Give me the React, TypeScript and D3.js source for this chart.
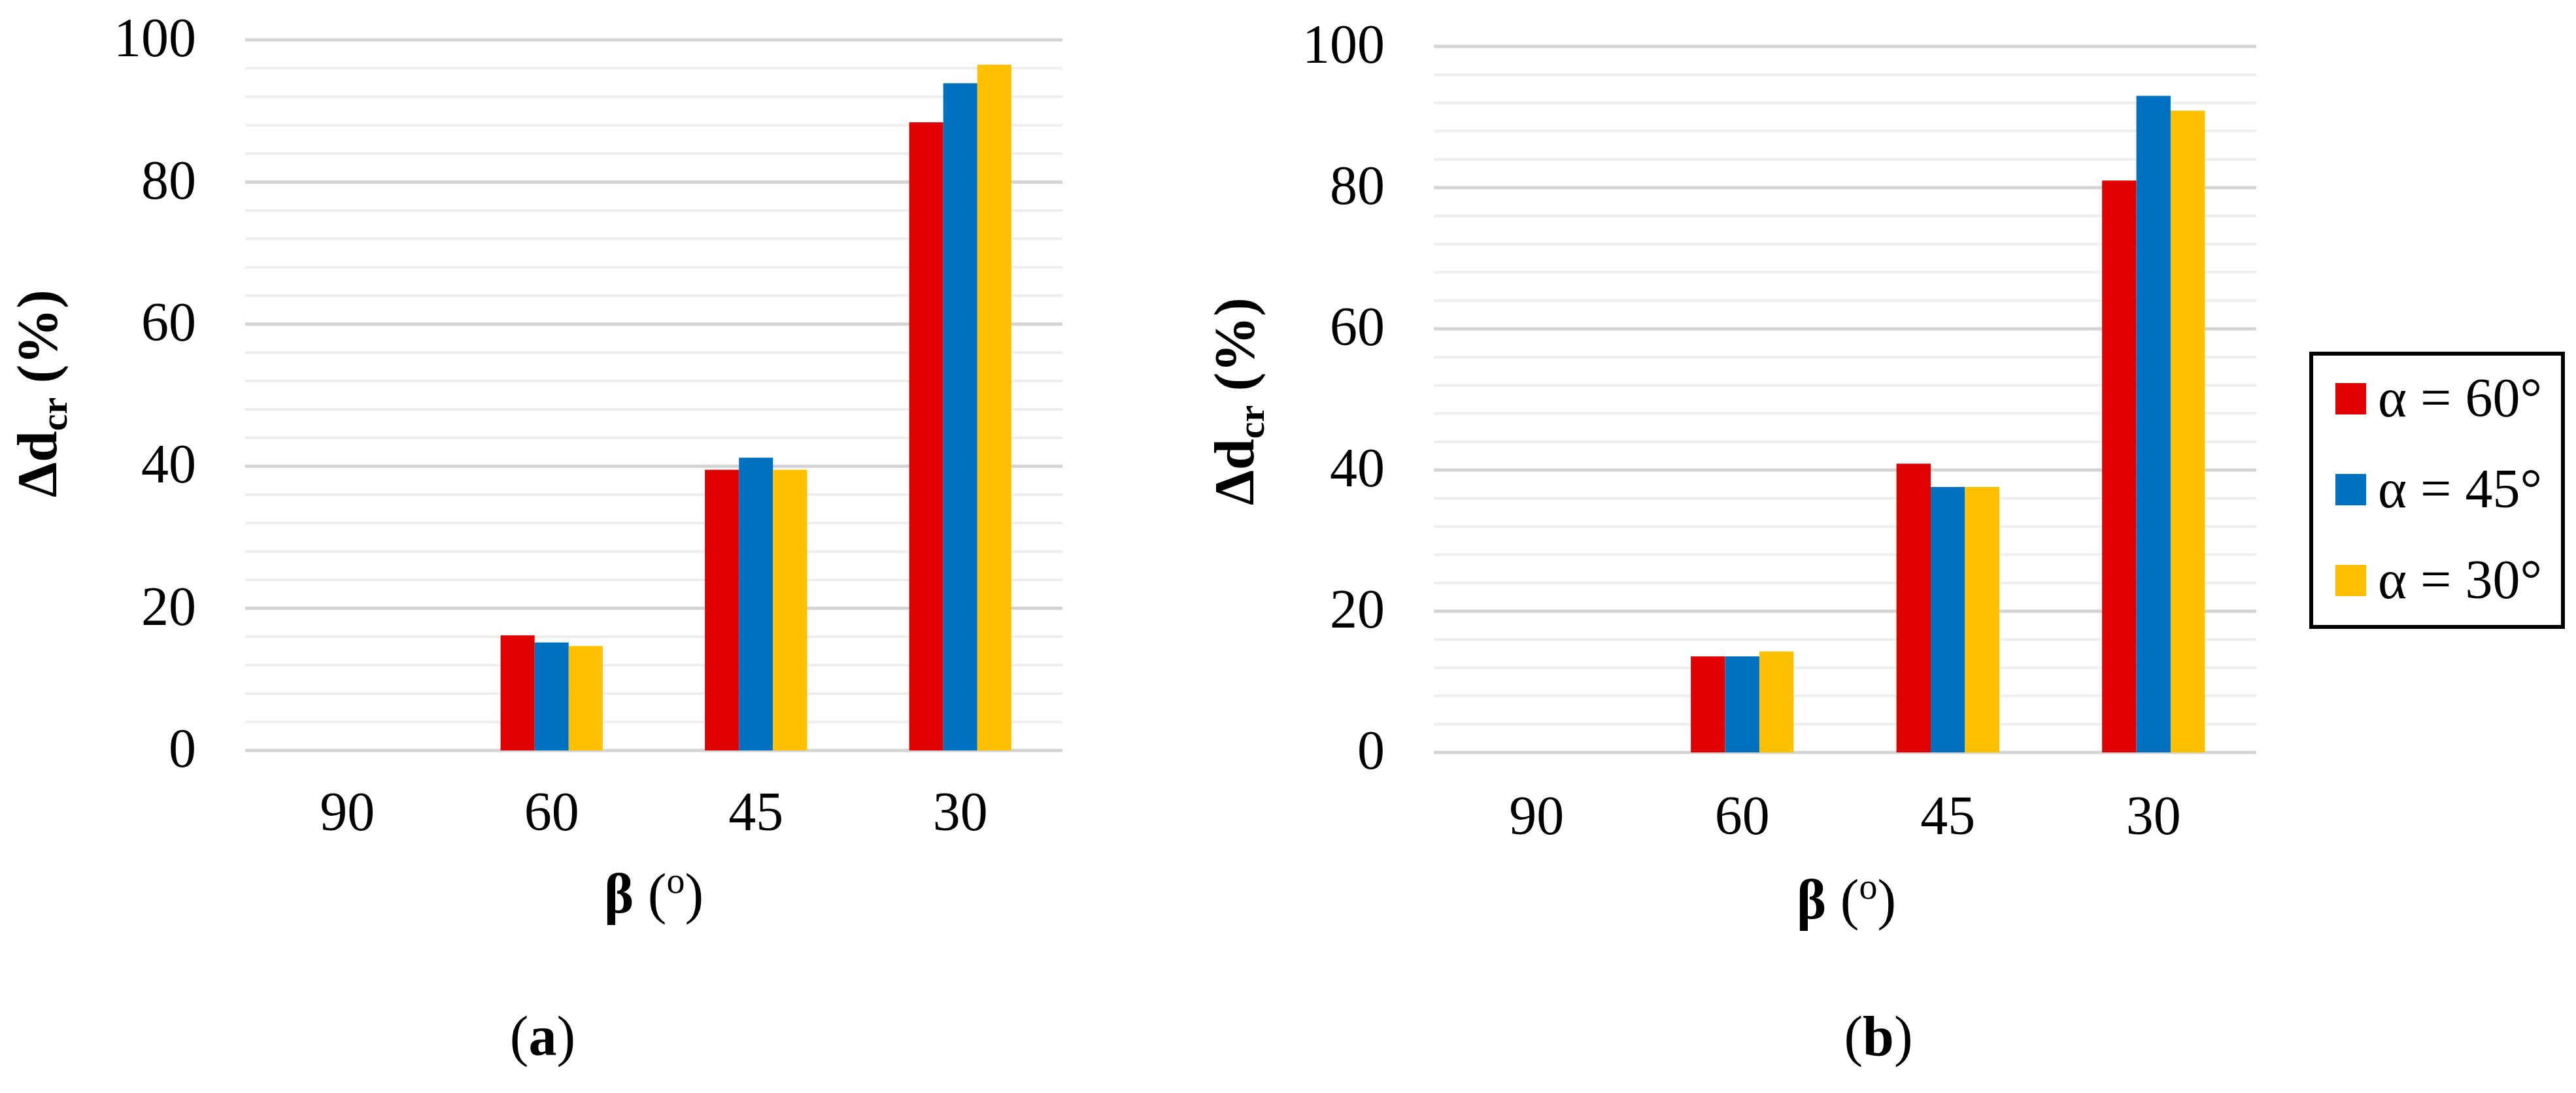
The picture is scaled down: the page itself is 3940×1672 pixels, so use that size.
import { useEffect, useRef } from "react"
import * as d3 from "d3"

// beta angle categories (x axis)
const categories = ["90", "60", "45", "30"]

// alpha series
const seriesLabels = ["α = 60°", "α = 45°", "α = 30°"]
const seriesColors = ["#E00000", "#0070C0", "#FFC000"]

// panel (a) values, %
const panelA_alpha60 = [0, 16.2, 39.5, 88.4]
const panelA_alpha45 = [0, 15.2, 41.2, 93.9]
const panelA_alpha30 = [0, 14.7, 39.5, 96.5]

// panel (b) values, %
const panelB_alpha60 = [0, 13.6, 40.9, 81.0]
const panelB_alpha45 = [0, 13.6, 37.6, 93.0]
const panelB_alpha30 = [0, 14.3, 37.6, 90.9]

const yTicks = [0, 20, 40, 60, 80, 100]
const yMinorStep = 4
const yMax = 100

const FONT = "'Liberation Serif', 'Times New Roman', serif"

type PanelSpec = {
  label: string
  series: number[][]
  left: number
  right: number
  top: number
  bottom: number
  yTitleX: number
  yTitleY: number
  xTitleX: number
  xTitleY: number
  catLabelY: number
  panelLabelX: number
}

const panels: PanelSpec[] = [
  {
    label: "a",
    series: [panelA_alpha60, panelA_alpha45, panelA_alpha30],
    left: 375, right: 1625, top: 61, bottom: 1148,
    yTitleX: 86, yTitleY: 602,
    xTitleX: 1000, xTitleY: 1396,
    catLabelY: 1270,
    panelLabelX: 830,
  },
  {
    label: "b",
    series: [panelB_alpha60, panelB_alpha45, panelB_alpha30],
    left: 2193, right: 3451, top: 71, bottom: 1151,
    yTitleX: 1917, yTitleY: 614,
    xTitleX: 2824, xTitleY: 1405,
    catLabelY: 1276,
    panelLabelX: 2873,
  },
]

function drawPanel(svg: d3.Selection<SVGSVGElement, unknown, null, undefined>, p: PanelSpec) {
  const g = svg.append("g")

  const x = d3.scaleBand<string>()
    .domain(categories)
    .range([p.left, p.right])
    .paddingInner(0)
    .paddingOuter(0)

  // bars take up the middle half of each category band
  const xInner = d3.scaleBand<number>()
    .domain(d3.range(seriesLabels.length))
    .range([x.bandwidth() * 0.25, x.bandwidth() * 0.75])

  const y = d3.scaleLinear()
    .domain([0, yMax])
    .range([p.bottom, p.top])

  // minor grid lines
  const minor = d3.range(0, yMax + 1, yMinorStep).filter(v => !yTicks.includes(v))
  g.append("g")
    .selectAll("line")
    .data(minor)
    .enter()
    .append("line")
    .attr("x1", p.left)
    .attr("x2", p.right)
    .attr("y1", d => y(d))
    .attr("y2", d => y(d))
    .attr("stroke", "#EEEEEE")
    .attr("stroke-width", 4)

  // major grid lines
  g.append("g")
    .selectAll("line")
    .data(yTicks)
    .enter()
    .append("line")
    .attr("x1", p.left)
    .attr("x2", p.right)
    .attr("y1", d => y(d))
    .attr("y2", d => y(d))
    .attr("stroke", "#D4D4D4")
    .attr("stroke-width", 5)

  // y tick labels
  g.append("g")
    .selectAll("text")
    .data(yTicks)
    .enter()
    .append("text")
    .attr("x", p.left - 75)
    .attr("y", d => y(d))
    .attr("dy", "0.3em")
    .attr("text-anchor", "end")
    .style("font-family", FONT)
    .style("font-size", "84px")
    .attr("fill", "#000")
    .text(d => d)

  // bars
  p.series.forEach((values, si) => {
    g.append("g")
      .selectAll("rect")
      .data(values)
      .enter()
      .append("rect")
      .attr("x", (_, i) => x(categories[i])! + xInner(si)!)
      .attr("width", xInner.bandwidth())
      .attr("y", d => y(d))
      .attr("height", d => y(0) - y(d))
      .attr("fill", seriesColors[si])
  })

  // category labels
  g.append("g")
    .selectAll("text")
    .data(categories)
    .enter()
    .append("text")
    .attr("x", d => x(d)! + x.bandwidth() / 2)
    .attr("y", p.catLabelY)
    .attr("text-anchor", "middle")
    .style("font-family", FONT)
    .style("font-size", "84px")
    .text(d => d)

  // y axis title: Δd_cr (%)
  const yt = g.append("text")
    .attr("transform", `translate(${p.yTitleX},${p.yTitleY}) rotate(-90)`)
    .attr("text-anchor", "middle")
    .style("font-family", FONT)
    .style("font-size", "86px")
    .style("font-weight", "bold")
  yt.append("tspan").text("Δd")
  yt.append("tspan").attr("dy", 16).style("font-size", "58px").text("cr")
  yt.append("tspan").attr("dy", -16).text(" (%)")

  // x axis title: β (°)
  const xt = g.append("text")
    .attr("x", p.xTitleX)
    .attr("y", p.xTitleY)
    .attr("text-anchor", "middle")
    .style("font-family", FONT)
    .style("font-size", "86px")
  xt.append("tspan").style("font-weight", "bold").text("β")
  xt.append("tspan").text(" (")
  xt.append("tspan").attr("dy", -30).style("font-size", "56px").text("o")
  xt.append("tspan").attr("dy", 30).text(")")

  // panel label (a) / (b)
  const pl = g.append("text")
    .attr("x", p.panelLabelX)
    .attr("y", 1614)
    .attr("text-anchor", "middle")
    .style("font-family", FONT)
    .style("font-size", "86px")
  pl.append("tspan").text("(")
  pl.append("tspan").style("font-weight", "bold").text(p.label)
  pl.append("tspan").text(")")
}

export default function App() {
  const svgRef = useRef<SVGSVGElement>(null)

  useEffect(() => {
    if (!svgRef.current) return
    const svg = d3.select(svgRef.current)
    svg.selectAll("*").remove()

    svg.append("rect")
      .attr("width", 3940)
      .attr("height", 1672)
      .attr("fill", "#fff")

    panels.forEach(p => drawPanel(svg, p))

    // legend (sits to the right of panel b)
    const legend = svg.append("g")
    legend.append("rect")
      .attr("x", 3535)
      .attr("y", 541)
      .attr("width", 385)
      .attr("height", 418)
      .attr("fill", "#fff")
      .attr("stroke", "#000")
      .attr("stroke-width", 6)

    const rowY = d3.scalePoint<string>()
      .domain(seriesLabels)
      .range([610, 888])

    seriesLabels.forEach((label, i) => {
      const cy = rowY(label)!
      legend.append("rect")
        .attr("x", 3572)
        .attr("y", cy - 24)
        .attr("width", 47)
        .attr("height", 48)
        .attr("fill", seriesColors[i])
      legend.append("text")
        .attr("x", 3637)
        .attr("y", cy + 27)
        .style("font-family", FONT)
        .style("font-size", "84px")
        .text(label)
    })
  }, [])

  return (
    <svg
      ref={svgRef}
      width={3940}
      height={1672}
      style={{ position: "absolute", left: 0, top: 0, display: "block" }}
    />
  )
}
